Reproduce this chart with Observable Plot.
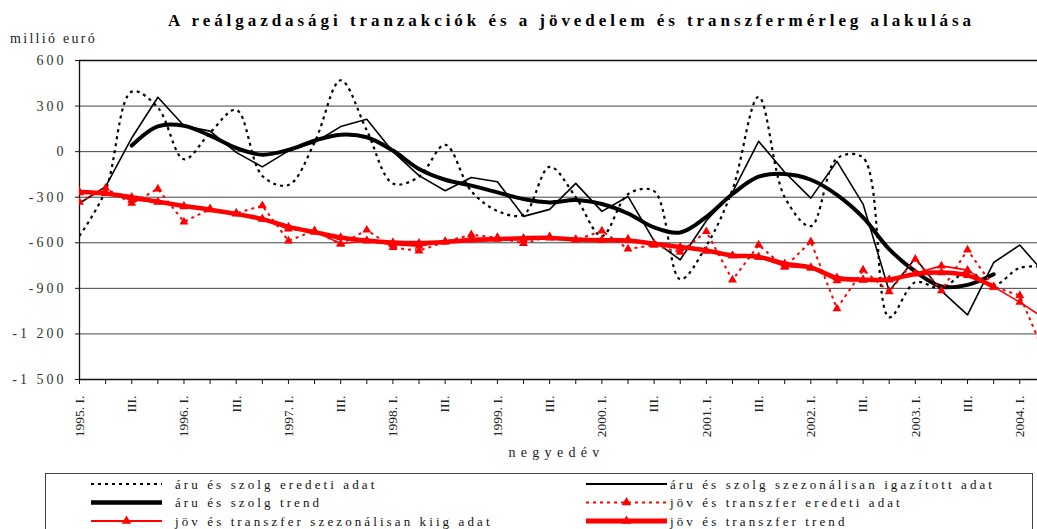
<!DOCTYPE html>
<html>
<head>
<meta charset="utf-8">
<script src="https://cdn.jsdelivr.net/npm/d3@7"></script>
<script src="https://cdn.jsdelivr.net/npm/@observablehq/plot@0.6"></script>
<style>
  html, body { margin: 0; padding: 0; background: #fff; }
  body { width: 1037px; height: 529px; overflow: hidden; font-family: "Liberation Serif", "DejaVu Serif", serif; }
  #head { position: relative; height: 48px; }
  #title { position: absolute; left: 168px; top: 11px; line-height: 20px; font-size: 17px; font-weight: bold; letter-spacing: 3.95px; white-space: nowrap; color: #000; }
  #unit { position: absolute; left: 10px; top: 31px; line-height: 16px; font-size: 14px; letter-spacing: 2.3px; white-space: nowrap; color: #222; }
  svg { display: block; }
</style>
</head>
<body>
<div id="head">
  <div id="title">A reálgazdasági tranzakciók és a jövedelem és transzfermérleg alakulása</div>
  <div id="unit">millió euró</div>
</div>
<div id="chart"></div>
<div id="legend"></div>
<script>
// ---- data ----
const quarters = ["1995. I.","II.","III.","IV.","1996. I.","II.","III.","IV.","1997. I.","II.","III.","IV.",
  "1998. I.","II.","III.","IV.","1999. I.","II.","III.","IV.","2000. I.","II.","III.","IV.",
  "2001. I.","II.","III.","IV.","2002. I.","II.","III.","IV.","2003. I.","II.","III.","IV.","2004. I.","II."];

const aruEredeti = [-555,-255,395,290,-50,125,275,-160,-220,60,470,140,-210,-165,45,-260,-390,-415,-100,-300,
  -555,-280,-260,-840,-620,-250,360,-300,-490,-45,-40,-1090,-860,-900,-790,-880,-765,-760];

const aruSzezonalis = [-340,-230,90,358,170,135,-5,-100,5,60,165,213,0,-158,-257,-170,-198,-426,-380,-209,
  -393,-295,-587,-712,-455,-268,68,-136,-306,-64,-345,-917,-701,-917,-1075,-730,-615,-810];

const aruTrend = [null,null,40,167,171,105,24,-20,11,73,112,95,7,-114,-185,-224,-268,-312,-334,-319,
  -345,-407,-499,-532,-429,-279,-165,-147,-185,-284,-433,-642,-789,-888,-877,-807,null,null];

const jovEredeti = [-333,-240,-340,-245,-462,-378,-405,-356,-587,-520,-609,-516,-631,-653,-593,-547,-565,-604,-560,-582,
  -522,-640,-616,-662,-526,-845,-614,-761,-592,-1033,-779,-922,-708,-915,-647,-890,-947,-1350];

const jovKiig = [-270,-272,-318,-332,-362,-376,-407,-442,-508,-525,-605,-588,-612,-622,-593,-570,-568,-582,-565,-580,
  -582,-575,-610,-632,-655,-686,-695,-755,-768,-849,-846,-845,-800,-752,-780,-890,-991,-1104];

const jovTrend = [-265,-275,-300,-330,-358,-382,-410,-444,-495,-530,-565,-585,-598,-602,-595,-582,-576,-570,-568,-578,
  -583,-585,-607,-628,-651,-684,-693,-737,-762,-830,-843,-842,-805,-796,-815,-890,null,null];

const yTicks = [600,300,0,-300,-600,-900,-1200,-1500];
const seriesNames = ["áru és szolg eredeti adat","áru és szolg szezonálisan igazított adat","áru és szolg trend",
  "jöv és transzfer eredeti adat","jöv és transzfer szezonálisan kiig adat","jöv és transzfer trend"];
const xTitle = "negyedév";

// ---- helpers ----
const idx = d3.range(quarters.length);
const series = vals => idx.map(i => ({i, v: vals[i]}));
const fmtY = d3.formatLocale({decimal: ",", thousands: " ", grouping: [3], currency: ["", ""], minus: "-"}).format(",d");

const chart = Plot.plot({
  width: 1037,
  height: 422,
  marginTop: 12,
  marginLeft: 79,
  marginRight: 0,
  marginBottom: 91,
  style: {fontFamily: "Liberation Serif, DejaVu Serif, serif", fontSize: "13px", background: "#fff"},
  x: {domain: [0, 37], range: [79, 1045.4]},
  y: {domain: [-1500, 600]},
  marks: [
    Plot.ruleY(yTicks.filter(d => d !== 600 && d !== -1500), {stroke: "#444", strokeWidth: 1}),
    Plot.ruleY([600], {stroke: "#111", strokeWidth: 1.3}),
    Plot.ruleY([-1500], {stroke: "#111", strokeWidth: 1.3}),
    Plot.ruleX([0], {stroke: "#111", strokeWidth: 1.3}),
    Plot.axisY({ticks: yTicks, tickSize: 4, tickPadding: 9, tickFormat: fmtY, fontSize: 14, fill: "#333", stroke: "#111", label: null}),
    Plot.axisX({ticks: d3.range(0, 37), tickSize: 5, tickPadding: 11, tickRotate: -90,
      tickFormat: i => (i % 2 === 0 ? quarters[i] : ""), fontSize: 13.5, fill: "#222", stroke: "#111", label: null}),
    Plot.text([xTitle], {frameAnchor: "bottom", dy: 77, dx: -2, fontSize: 14, fill: "#222"}),

    Plot.line(series(aruEredeti), {x: "i", y: "v", stroke: "#000", strokeWidth: 2.2, strokeDasharray: "3,4", strokeLinecap: "butt", curve: "catmull-rom", clip: true}),
    Plot.line(series(aruSzezonalis), {x: "i", y: "v", stroke: "#000", strokeWidth: 1.6, clip: true}),
    Plot.line(series(aruTrend), {x: "i", y: "v", stroke: "#000", strokeWidth: 4, curve: "catmull-rom", clip: true}),

    Plot.line(series(jovEredeti), {x: "i", y: "v", stroke: "#ff0000", strokeWidth: 2, strokeDasharray: "3,4", strokeLinecap: "butt", clip: true}),
    Plot.dot(series(jovEredeti), {x: "i", y: "v", symbol: "triangle", r: 3.3, fill: "#ff0000", clip: true}),
    Plot.line(series(jovKiig), {x: "i", y: "v", stroke: "#ff0000", strokeWidth: 1.6, clip: true}),
    Plot.dot(series(jovKiig), {x: "i", y: "v", symbol: "triangle", r: 3.3, fill: "#ff0000", clip: true}),
    Plot.line(series(jovTrend), {x: "i", y: "v", stroke: "#ff0000", strokeWidth: 4.5, curve: "catmull-rom", clip: true}),
    Plot.dot(series(jovTrend), {x: "i", y: "v", symbol: "triangle", r: 3.3, fill: "#ff0000", clip: true})
  ]
});
document.getElementById("chart").appendChild(chart);

// letter spacing of the spaced-out serif labels
d3.select(chart).selectAll('g[aria-label="y-axis tick label"] text').style("letter-spacing", "3px");
d3.select(chart).selectAll('g[aria-label="text"] text').style("letter-spacing", "5.3px");

// ---- legend ----
const styles = [
  {stroke: "#000", w: 2.2, dash: "3,4", tri: false},
  {stroke: "#000", w: 2, dash: null, tri: false},
  {stroke: "#000", w: 4.5, dash: null, tri: false},
  {stroke: "#ff0000", w: 2, dash: "3,4", tri: true},
  {stroke: "#ff0000", w: 2, dash: null, tri: true},
  {stroke: "#ff0000", w: 5, dash: null, tri: true}
];
const lg = d3.select("#legend").append("svg").attr("width", 1037).attr("height", 59);
lg.append("rect").attr("x", 45.5).attr("y", 3.5).attr("width", 987).attr("height", 80)
  .attr("fill", "none").attr("stroke", "#444").attr("stroke-width", 1);
seriesNames.forEach((name, k) => {
  const col = k % 2, row = Math.floor(k / 2);
  const x0 = col === 0 ? 91 : 586, x1 = col === 0 ? 162 : 667, tx = col === 0 ? 175 : 670;
  const y = 14 + row * 18.5;
  const s = styles[k];
  const ln = lg.append("line").attr("x1", x0).attr("x2", x1).attr("y1", y).attr("y2", y)
    .attr("stroke", s.stroke).attr("stroke-width", s.w);
  if (s.dash) ln.attr("stroke-dasharray", s.dash);
  if (s.tri) {
    const cx = (x0 + x1) / 2;
    lg.append("path").attr("d", d3.symbol(d3.symbolTriangle, 40)()).attr("transform", `translate(${cx},${y})`).attr("fill", s.stroke);
  }
  lg.append("text").attr("x", tx).attr("y", y).attr("dy", "0.35em")
    .attr("font-family", "Liberation Serif, DejaVu Serif, serif").attr("font-size", 13)
    .style("letter-spacing", "3.1px").attr("fill", "#111").text(name);
});
</script>
</body>
</html>
